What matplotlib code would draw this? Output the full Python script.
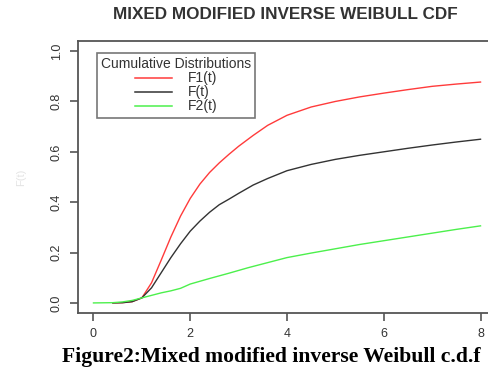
import matplotlib
matplotlib.use("Agg")
import matplotlib.pyplot as plt
from matplotlib.lines import Line2D

# values
t_mix = [0.4, 0.6, 0.8, 1.0, 1.2, 1.4, 1.6, 1.8, 2.0, 2.2, 2.4, 2.6, 2.8, 3.0,
         3.3, 3.6, 4.0, 4.5, 5.0, 5.5, 6.0, 6.5, 7.0, 7.5, 8.0]
F1 = [0.0, 0.001, 0.005, 0.02, 0.08, 0.17, 0.262, 0.345, 0.415, 0.472, 0.518, 0.556,
      0.59, 0.622, 0.665, 0.705, 0.745, 0.778, 0.80, 0.818, 0.833, 0.847, 0.86, 0.869, 0.877]
F = [0.0, 0.001, 0.005, 0.02, 0.06, 0.12, 0.18, 0.235, 0.285, 0.325, 0.36, 0.39,
     0.412, 0.435, 0.468, 0.494, 0.525, 0.55, 0.57, 0.586, 0.60, 0.614, 0.627, 0.639, 0.65]
t_f2 = [0.0, 0.4, 0.6, 0.8, 1.0, 1.2, 1.4, 1.6, 1.8, 2.0, 2.4, 2.8, 3.2, 3.6, 4.0,
        4.5, 5.0, 5.5, 6.0, 6.5, 7.0, 7.5, 8.0]
F2 = [0.0, 0.001, 0.004, 0.01, 0.02, 0.03, 0.04, 0.048, 0.058, 0.075, 0.097, 0.118,
      0.14, 0.16, 0.18, 0.198, 0.215, 0.232, 0.247, 0.262, 0.277, 0.292, 0.306]

xticks = [0, 2, 4, 6, 8]
yticks = [0.0, 0.2, 0.4, 0.6, 0.8, 1.0]

plt.rcParams['font.family'] = ['Liberation Sans', 'DejaVu Sans']

fig = plt.figure(figsize=(4.88, 3.70), dpi=100)
# the right edge of the R plot box is cropped off in the original
ax = fig.add_axes([78 / 488, 57 / 370, 418 / 488, 272 / 370])

ax.plot(t_mix, F1, color='#ff3b3b', lw=1.0)
ax.plot(t_mix, F, color='#333333', lw=1.0)
ax.plot(t_f2, F2, color='#4cf04c', lw=1.0)

ax.set_xlim(-0.32, 8.32)
ax.set_ylim(-0.04, 1.04)
ax.set_xticks(xticks)
ax.set_xticklabels([str(v) for v in xticks])
ax.set_yticks(yticks)
ax.set_yticklabels(['%.1f' % v for v in yticks], rotation=90, va='center')
ax.tick_params(direction='out', length=6, width=1.2, color='#555555',
               labelcolor='#333333', labelsize=9, pad=5)

for side in ['left', 'bottom', 'top', 'right']:
    ax.spines[side].set_color('#555555')
    ax.spines[side].set_linewidth(1.3)

ax.set_ylabel('F(t)', color='#e4e4e4', fontsize=8, labelpad=18)

handles = [Line2D([], [], color='#ff3b3b', lw=1.1),
           Line2D([], [], color='#333333', lw=1.1),
           Line2D([], [], color='#4cf04c', lw=1.1)]
leg = ax.legend(handles, ['F1(t)', 'F(t)', 'F2(t)'], title='Cumulative Distributions',
                loc='upper left', bbox_to_anchor=(0.045, 0.955), fontsize=10,
                title_fontsize=10, frameon=True, fancybox=False,
                handlelength=2.7, handletextpad=1.1, labelspacing=0.0,
                borderpad=0.3, borderaxespad=0)
leg.get_frame().set_edgecolor('#555555')
leg.get_frame().set_linewidth(1.2)
for txt in leg.get_texts():
    txt.set_color('#333333')
leg.get_title().set_color('#333333')

fig.text(0.585, 0.962, 'MIXED MODIFIED INVERSE WEIBULL CDF', ha='center', va='center',
         fontsize=12.3, fontweight='bold', color='#333333')
fig.text(0.555, 0.035, 'Figure2:Mixed modified inverse Weibull c.d.f', ha='center',
         va='center', fontsize=15.6, fontweight='bold', family='Liberation Serif',
         color='black')

fig.savefig('out.png', dpi=100)
